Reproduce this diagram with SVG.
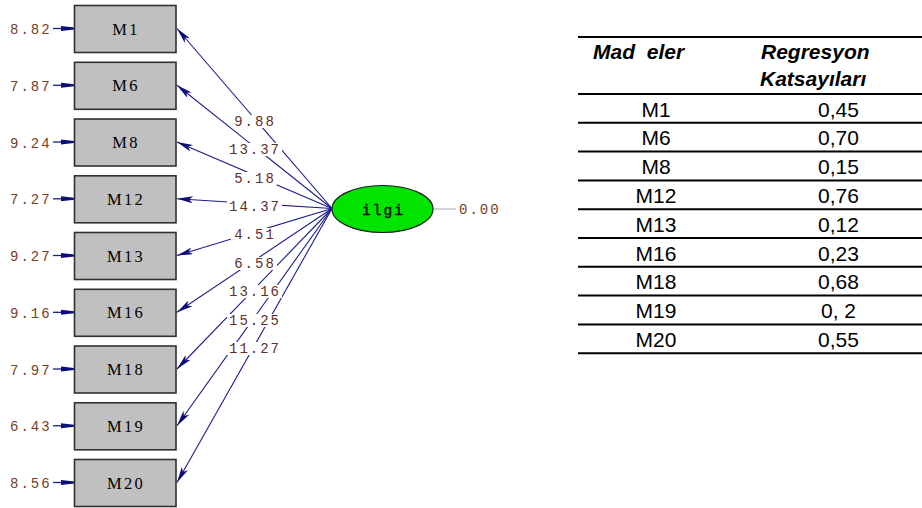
<svg xmlns="http://www.w3.org/2000/svg" width="922" height="508" viewBox="0 0 922 508">
  <style>
    .box { fill: #c0c0c0; stroke: #303030; stroke-width: 1.6; }
    .bname { font-family: "Liberation Serif", "Times New Roman", serif; font-size: 16.5px; letter-spacing: 2.2px; fill: #000; text-anchor: middle; }
    .err { font-family: "Liberation Mono", "Courier New", monospace; font-size: 14px; letter-spacing: 2px; fill: #774026; }
    .lbl { font-family: "Liberation Mono", "Courier New", monospace; font-size: 14px; letter-spacing: 2px; fill: #5e2f2c; text-anchor: middle; }
    .bg { fill: #ffffff; }
    .path { stroke: #1c1c8c; stroke-width: 1.1; fill: none; marker-end: url(#head); }
    .eline { stroke: #1c1c8c; stroke-width: 1.3; fill: none; marker-end: url(#ehead); }
    .th { font-family: "Liberation Sans", Arial, sans-serif; font-size: 21px; font-weight: bold; font-style: italic; fill: #000; }
    .td { font-family: "Liberation Sans", Arial, sans-serif; font-size: 21px; fill: #000; text-anchor: middle; }
    .rule { stroke: #000; stroke-width: 2; }
  </style>
  <defs>
    <marker id="head" viewBox="0 0 16 7" refX="16" refY="3.5" markerWidth="16" markerHeight="7" markerUnits="userSpaceOnUse" orient="auto">
      <path d="M0,0 L16,3.5 L0,7 L4,3.5 z" fill="#0c0c7c"/>
    </marker>
    <marker id="ehead" viewBox="0 0 13 6" refX="13" refY="3" markerWidth="13" markerHeight="6" markerUnits="userSpaceOnUse" orient="auto">
      <path d="M0,0.5 L13,2 L13,4 L0,5.5 z" fill="#0c0c7c"/>
    </marker>
  </defs>

  <!-- loadings from the latent factor to each item -->
  <g id="connectors">
    <line class="path" x1="332" y1="208.5" x2="177" y2="28.5"/>
    <line class="path" x1="332" y1="208.5" x2="177" y2="85.3"/>
    <line class="path" x1="332" y1="208.5" x2="177" y2="142"/>
    <line class="path" x1="332" y1="208.5" x2="177" y2="198.8"/>
    <line class="path" x1="332" y1="208.5" x2="177" y2="255.5"/>
    <line class="path" x1="332" y1="208.5" x2="177" y2="312.3"/>
    <line class="path" x1="332" y1="208.5" x2="177" y2="369"/>
    <line class="path" x1="332" y1="208.5" x2="177" y2="425.8"/>
    <line class="path" x1="332" y1="208.5" x2="177" y2="482.5"/>

    <!-- error terms -->
    <line class="eline" x1="53" y1="28.5" x2="74" y2="28.5"/>
    <line class="eline" x1="53" y1="85.3" x2="74" y2="85.3"/>
    <line class="eline" x1="53" y1="142" x2="74" y2="142"/>
    <line class="eline" x1="53" y1="198.8" x2="74" y2="198.8"/>
    <line class="eline" x1="53" y1="255.5" x2="74" y2="255.5"/>
    <line class="eline" x1="53" y1="312.3" x2="74" y2="312.3"/>
    <line class="eline" x1="53" y1="369" x2="74" y2="369"/>
    <line class="eline" x1="53" y1="425.8" x2="74" y2="425.8"/>
    <line class="eline" x1="53" y1="482.5" x2="74" y2="482.5"/>

    <!-- factor variance stub -->
    <line x1="433" y1="209" x2="456" y2="209" stroke="#a8a8a8" stroke-width="1"/>

    <!-- t-values on the loadings -->
    <rect class="bg" x="231" y="115" width="46" height="13"/>
    <text class="lbl" x="255" y="126">9.88</text>
    <rect class="bg" x="227" y="143" width="55" height="13"/>
    <text class="lbl" x="255" y="154">13.37</text>
    <rect class="bg" x="231" y="172" width="46" height="13"/>
    <text class="lbl" x="255" y="183">5.18</text>
    <rect class="bg" x="227" y="200" width="55" height="13"/>
    <text class="lbl" x="255" y="211">14.37</text>
    <rect class="bg" x="231" y="228" width="46" height="13"/>
    <text class="lbl" x="255" y="239">4.51</text>
    <rect class="bg" x="231" y="257" width="46" height="13"/>
    <text class="lbl" x="255" y="268">6.58</text>
    <rect class="bg" x="227" y="285" width="55" height="13"/>
    <text class="lbl" x="255" y="296">13.16</text>
    <rect class="bg" x="227" y="314" width="55" height="13"/>
    <text class="lbl" x="255" y="325">15.25</text>
    <rect class="bg" x="227" y="342" width="55" height="13"/>
    <text class="lbl" x="255" y="353">11.27</text>
  </g>

  <!-- observed items -->
  <g id="M1"><rect class="box" x="74.5" y="5.5" width="101.5" height="47"/><text class="bname" x="126" y="34.5">M1</text><text class="err" x="10" y="34">8.82</text></g>
  <g id="M6"><rect class="box" x="74.5" y="62.3" width="101.5" height="47"/><text class="bname" x="126" y="91.3">M6</text><text class="err" x="10" y="91">7.87</text></g>
  <g id="M8"><rect class="box" x="74.5" y="119" width="101.5" height="47"/><text class="bname" x="126" y="148">M8</text><text class="err" x="10" y="147.5">9.24</text></g>
  <g id="M12"><rect class="box" x="74.5" y="175.8" width="101.5" height="47"/><text class="bname" x="126" y="204.8">M12</text><text class="err" x="10" y="204.3">7.27</text></g>
  <g id="M13"><rect class="box" x="74.5" y="232.5" width="101.5" height="47"/><text class="bname" x="126" y="261.5">M13</text><text class="err" x="10" y="261">9.27</text></g>
  <g id="M16"><rect class="box" x="74.5" y="289.3" width="101.5" height="47"/><text class="bname" x="126" y="318.3">M16</text><text class="err" x="10" y="317.8">9.16</text></g>
  <g id="M18"><rect class="box" x="74.5" y="346" width="101.5" height="47"/><text class="bname" x="126" y="375">M18</text><text class="err" x="10" y="374.5">7.97</text></g>
  <g id="M19"><rect class="box" x="74.5" y="402.8" width="101.5" height="47"/><text class="bname" x="126" y="431.8">M19</text><text class="err" x="10" y="431.3">6.43</text></g>
  <g id="M20"><rect class="box" x="74.5" y="459.5" width="101.5" height="47"/><text class="bname" x="126" y="488.5">M20</text><text class="err" x="10" y="488">8.56</text></g>

  <!-- latent factor -->
  <g id="ilgi">
    <ellipse cx="382.5" cy="209" rx="50.5" ry="23.5" fill="#00e400" stroke="#1a1a1a" stroke-width="1.2"/>
    <text x="383.5" y="215" font-family="Liberation Mono, Courier New, monospace" font-size="14.5" letter-spacing="2" text-anchor="middle" fill="#000" stroke="#000" stroke-width="0.3">ilgi</text>
    <text class="err" x="459" y="214">0.00</text>
  </g>

  <!-- coefficient table -->
  <g id="table">
    <line class="rule" x1="578" y1="37" x2="922" y2="37"/>
    <line class="rule" x1="578" y1="94" x2="922" y2="94"/>
    <line class="rule" x1="578" y1="122.8" x2="922" y2="122.8"/>
    <line class="rule" x1="578" y1="151.6" x2="922" y2="151.6"/>
    <line class="rule" x1="578" y1="180.4" x2="922" y2="180.4"/>
    <line class="rule" x1="578" y1="209.2" x2="922" y2="209.2"/>
    <line class="rule" x1="578" y1="238" x2="922" y2="238"/>
    <line class="rule" x1="578" y1="266.8" x2="922" y2="266.8"/>
    <line class="rule" x1="578" y1="295.6" x2="922" y2="295.6"/>
    <line class="rule" x1="578" y1="324.4" x2="922" y2="324.4"/>
    <line class="rule" x1="578" y1="353.2" x2="922" y2="353.2"/>

    <text class="th" x="593" y="59" word-spacing="6">Mad eler</text>
    <text class="th" x="761" y="59">Regresyon</text>
    <text class="th" x="760" y="86">Katsayıları</text>

    <text class="td" x="656" y="116.5">M1</text><text class="td" x="838.5" y="116.5">0,45</text>
    <text class="td" x="656" y="145.3">M6</text><text class="td" x="838.5" y="145.3">0,70</text>
    <text class="td" x="656" y="174.1">M8</text><text class="td" x="838.5" y="174.1">0,15</text>
    <text class="td" x="656" y="202.9">M12</text><text class="td" x="838.5" y="202.9">0,76</text>
    <text class="td" x="656" y="231.7">M13</text><text class="td" x="838.5" y="231.7">0,12</text>
    <text class="td" x="656" y="260.5">M16</text><text class="td" x="838.5" y="260.5">0,23</text>
    <text class="td" x="656" y="289.3">M18</text><text class="td" x="838.5" y="289.3">0,68</text>
    <text class="td" x="656" y="318.1">M19</text><text class="td" x="838.5" y="318.1">0, 2</text>
    <text class="td" x="656" y="346.9">M20</text><text class="td" x="838.5" y="346.9">0,55</text>
  </g>
</svg>
